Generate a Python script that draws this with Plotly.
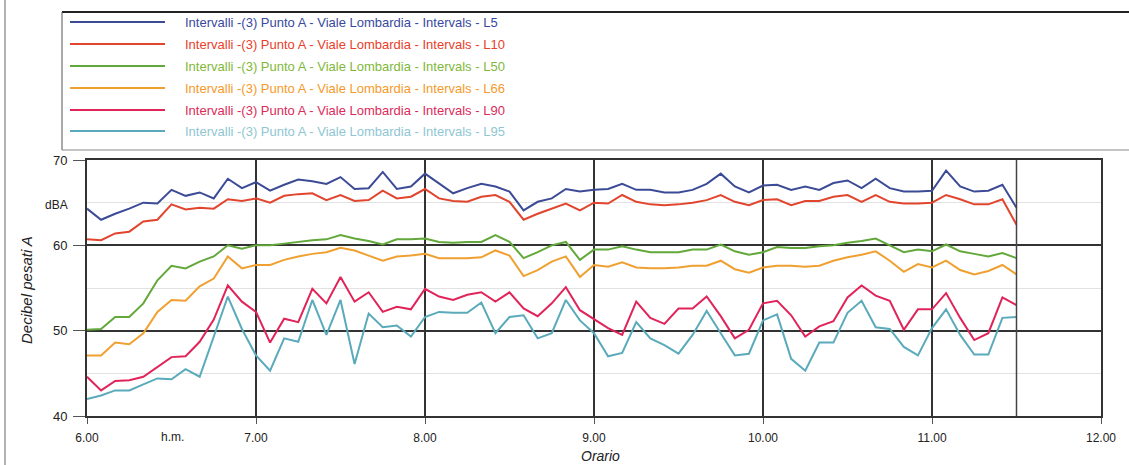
import plotly.graph_objects as go

# time axis: 5-minute intervals from 6.00 to 11.30 (decimal hours)
minutes = list(range(0, 335, 5))
times = [6 + m / 60 for m in minutes]

L5 = [64.3, 63.0, 63.7, 64.3, 65.0, 64.9, 66.5, 65.8, 66.2, 65.5, 67.8, 66.7, 67.4,
      66.4, 67.1, 67.7, 67.5, 67.2, 68.0, 66.6, 66.7, 68.6, 66.6, 66.9, 68.4,
      67.3, 66.1, 66.7, 67.2, 66.9, 66.3, 64.1, 65.1, 65.5, 66.6, 66.3, 66.5,
      66.6, 67.2, 66.5, 66.5, 66.2, 66.2, 66.5, 67.2, 68.4, 66.9, 66.2, 67.0,
      67.1, 66.5, 66.9, 66.5, 67.3, 67.6, 66.7, 67.8, 66.7, 66.3, 66.3, 66.4,
      68.75, 66.9, 66.3, 66.4, 67.1, 64.4]
L10 = [60.7, 60.6, 61.4, 61.6, 62.8, 63.0, 64.8, 64.2, 64.4, 64.3, 65.4, 65.2, 65.5,
       65.0, 65.8, 66.0, 66.1, 65.3, 65.9, 65.2, 65.3, 66.4, 65.5, 65.7, 66.6,
       65.5, 65.2, 65.1, 65.7, 65.9, 65.1, 63.0, 63.7, 64.3, 64.9, 64.1, 65.0,
       64.9, 65.9, 65.1, 64.8, 64.7, 64.8, 65.0, 65.3, 65.9, 65.1, 64.7, 65.3,
       65.4, 64.7, 65.2, 65.2, 65.7, 65.9, 65.1, 65.9, 65.1, 64.9, 64.9, 65.0,
       65.9, 65.4, 64.8, 64.8, 65.4, 62.4]
L50 = [50.1, 50.2, 51.6, 51.6, 53.2, 55.9, 57.6, 57.3, 58.1, 58.7, 60.0, 59.6, 60.0,
       60.0, 60.2, 60.4, 60.6, 60.7, 61.2, 60.8, 60.5, 60.1, 60.7, 60.7, 60.8,
       60.4, 60.3, 60.4, 60.4, 61.2, 60.4, 58.5, 59.2, 60.0, 60.4, 58.3, 59.5,
       59.5, 59.9, 59.5, 59.2, 59.2, 59.2, 59.5, 59.5, 60.1, 59.3, 58.9, 59.2,
       59.8, 59.7, 59.7, 59.9, 60.0, 60.3, 60.5, 60.8, 60.0, 59.2, 59.5, 59.3,
       60.1, 59.3, 59.0, 58.7, 59.1, 58.5]
L66 = [47.1, 47.1, 48.6, 48.4, 49.7, 52.2, 53.6, 53.5, 55.2, 56.1, 58.7, 57.3, 57.7,
       57.7, 58.3, 58.7, 59.0, 59.2, 59.7, 59.4, 58.8, 58.2, 58.7, 58.8, 59.0,
       58.5, 58.5, 58.5, 58.6, 59.4, 58.8, 56.4, 57.1, 58.1, 58.7, 56.3, 57.7,
       57.5, 58.0, 57.4, 57.3, 57.3, 57.4, 57.6, 57.6, 58.2, 57.2, 56.8, 57.4,
       57.6, 57.6, 57.5, 57.6, 58.2, 58.6, 58.9, 59.3, 58.2, 56.9, 57.8, 57.4,
       58.2, 57.1, 56.6, 57.0, 57.7, 56.6]
L90 = [44.6, 43.0, 44.1, 44.2, 44.6, 45.7, 46.9, 47.0, 48.7, 51.3, 55.3, 53.4, 52.2,
       48.6, 51.4, 51.0, 54.9, 53.2, 56.3, 53.4, 54.5, 52.2, 52.8, 52.5, 54.9,
       54.0, 53.6, 54.2, 54.5, 53.4, 54.5, 52.6, 51.7, 53.2, 55.1, 52.4, 51.3,
       50.3, 49.5, 53.4, 51.5, 50.8, 52.6, 52.6, 54.0, 51.7, 49.1, 50.1, 53.2,
       53.5, 51.8, 49.3, 50.5, 51.1, 53.9, 55.3, 54.1, 53.5, 50.1, 52.5, 52.5,
       54.4, 51.5, 48.9, 49.7, 53.9, 53.0]
L95 = [42.0, 42.4, 43.0, 43.0, 43.7, 44.4, 44.3, 45.5, 44.6, 49.3, 54.0, 50.2, 47.1,
       45.3, 49.1, 48.7, 53.6, 49.5, 53.6, 46.1, 52.0, 50.4, 50.6, 49.3, 51.6,
       52.2, 52.1, 52.1, 53.3, 49.7, 51.6, 51.8, 49.1, 49.7, 53.6, 51.2, 49.7,
       47.0, 47.4, 51.0, 49.1, 48.3, 47.3, 49.5, 52.3, 49.7, 47.1, 47.3, 51.2,
       51.9, 46.7, 45.3, 48.6, 48.6, 52.1, 53.5, 50.4, 50.2, 48.1, 47.1, 50.3,
       52.5, 49.5, 47.2, 47.2, 51.5, 51.6]

series_names = [
    "Intervalli -(3) Punto A - Viale Lombardia - Intervals - L5",
    "Intervalli -(3) Punto A - Viale Lombardia - Intervals - L10",
    "Intervalli -(3) Punto A - Viale Lombardia - Intervals - L50",
    "Intervalli -(3) Punto A - Viale Lombardia - Intervals - L66",
    "Intervalli -(3) Punto A - Viale Lombardia - Intervals - L90",
    "Intervalli -(3) Punto A - Viale Lombardia - Intervals - L95",
]
series_values = [L5, L10, L50, L66, L90, L95]
line_colors = ["#3c4b96", "#e2452e", "#62a83a", "#f0a030", "#e0245a", "#5aaabb"]
text_colors = ["#3949a0", "#e8402a", "#7fb83a", "#f59a2a", "#dc2b5a", "#8fc6d3"]

x_tickvals = [6, 7, 8, 9, 10, 11, 12]
x_ticktext = ["6.00", "7.00", "8.00", "9.00", "10.00", "11.00", "12.00"]
y_tickvals = [40, 50, 60, 70]

W, H = 1129, 465
L, R, T, B = 87, 28, 160, 49
pw, ph = W - L - R, H - T - B


def px(xp):
    return (xp - L) / pw


def py(yp):
    return (H - B - yp) / ph


fig = go.Figure()
for name, vals, col in zip(series_names, series_values, line_colors):
    fig.add_trace(go.Scatter(x=times, y=vals, mode="lines", name=name,
                             line=dict(color=col, width=2), showlegend=False))

font = "Liberation Sans, Arial, sans-serif"
fig.update_layout(
    width=W, height=H, autosize=False,
    margin=dict(l=L, r=R, t=T, b=B, pad=0),
    paper_bgcolor="white", plot_bgcolor="white",
    font=dict(family=font, size=13, color="#222"),
    xaxis=dict(range=[6, 12], tickvals=x_tickvals, ticktext=x_ticktext,
               showgrid=True, gridcolor="#333", gridwidth=1.5,
               showline=True, linecolor="#333", linewidth=2, mirror=True,
               ticks="outside", ticklen=6, tickcolor="#555",
               ticklabelstandoff=4, zeroline=False,
               tickfont=dict(size=12, color="#222")),
    yaxis=dict(range=[40, 70], tickvals=y_tickvals,
               showgrid=True, gridcolor="#333", gridwidth=1.5,
               showline=True, linecolor="#333", linewidth=2, mirror=True,
               ticks="outside", ticklen=12, tickcolor="#555",
               ticklabelstandoff=3, zeroline=False,
               minor=dict(dtick=5, showgrid=True, gridcolor="#e2e2e2", gridwidth=1),
               tickfont=dict(size=13, color="#222")),
)

shapes = []
# end-of-data vertical line
shapes.append(dict(type="line", xref="x", yref="paper", x0=11.5, x1=11.5, y0=0, y1=1,
                   line=dict(color="#444", width=1.5)))
# legend frame (top, left, bottom)
lx0, lx1, ly0, ly1 = 62, 1135, 12, 150
shapes.append(dict(type="line", xref="paper", yref="paper", x0=px(lx0), x1=px(lx1),
                   y0=py(ly0), y1=py(ly0), line=dict(color="#222", width=2)))
shapes.append(dict(type="line", xref="paper", yref="paper", x0=px(lx0), x1=px(lx0),
                   y0=py(ly0), y1=py(ly1), line=dict(color="#555", width=1)))
shapes.append(dict(type="line", xref="paper", yref="paper", x0=px(lx0), x1=px(lx1),
                   y0=py(ly1), y1=py(ly1), line=dict(color="#888", width=1)))
# page edge line
shapes.append(dict(type="line", xref="paper", yref="paper", x0=px(5), x1=px(5),
                   y0=py(0), y1=py(H), line=dict(color="#666", width=1)))

annotations = []
row_y = [22, 44, 66, 88, 110, 131]
for name, lc, tc, ry in zip(series_names, line_colors, text_colors, row_y):
    shapes.append(dict(type="line", xref="paper", yref="paper", x0=px(70), x1=px(165),
                       y0=py(ry), y1=py(ry), line=dict(color=lc, width=2)))
    annotations.append(dict(xref="paper", yref="paper", x=px(183), y=py(ry),
                            text=name, showarrow=False, xanchor="left", yanchor="middle",
                            font=dict(family="Liberation Sans Narrow, Arial Narrow, Liberation Sans, sans-serif",
                                      size=13, color=tc)))

annotations.append(dict(xref="paper", yref="paper", x=px(56), y=py(205), text="dBA",
                        showarrow=False, xanchor="center", yanchor="middle",
                        font=dict(size=12, color="#222")))
annotations.append(dict(xref="paper", yref="paper", x=px(172), y=py(437), text="h.m.",
                        showarrow=False, xanchor="center", yanchor="middle",
                        font=dict(size=12, color="#222")))
annotations.append(dict(xref="paper", yref="paper", x=px(26), y=py(290),
                        text="<i>Decibel pesati A</i>", textangle=-90,
                        showarrow=False, xanchor="center", yanchor="middle",
                        font=dict(size=15, color="#222")))
annotations.append(dict(xref="paper", yref="paper", x=px(600), y=py(456),
                        text="<i>Orario</i>", showarrow=False,
                        xanchor="center", yanchor="middle",
                        font=dict(size=14, color="#222")))

fig.update_layout(shapes=shapes, annotations=annotations)
fig.write_html("out.html")
